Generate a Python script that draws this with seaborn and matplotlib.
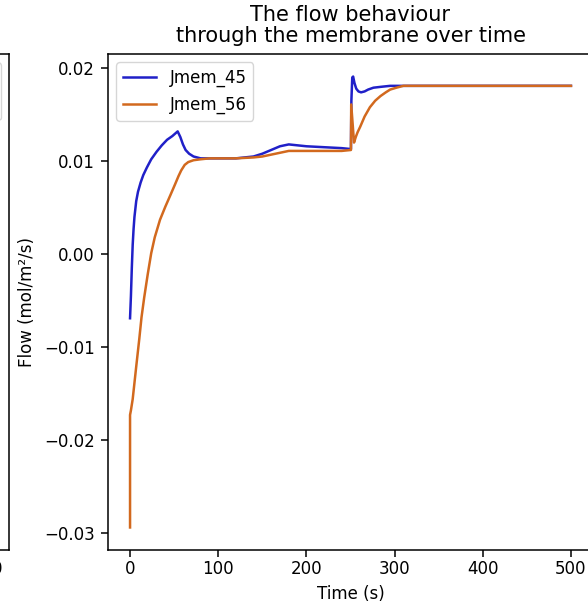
import numpy as np
import pandas as pd
import matplotlib
matplotlib.use("Agg")
import matplotlib.pyplot as plt
import seaborn as sns

# ---- data ----
t_45 = [0, 1, 2, 3, 4, 5, 7, 9, 12, 15, 19, 24, 30, 36, 42, 48, 54, 57, 60, 63, 67,
        72, 80, 90, 100, 110, 120, 130, 140, 150, 160, 170, 180, 190, 200, 220, 240,
        250.5, 251, 252, 253, 254.5, 256.5, 259, 262, 266, 270, 276, 285, 295, 310,
        350, 400, 450, 500]
jmem_45 = [-0.0069, -0.0045, -0.0015, 0.0010, 0.0027, 0.0040, 0.0057, 0.0067, 0.0077,
           0.0085, 0.0093, 0.0102, 0.0110, 0.0117, 0.0123, 0.0127, 0.0132, 0.0126,
           0.0118, 0.0112, 0.0108, 0.0105, 0.0103, 0.0103, 0.0103, 0.0103, 0.0103,
           0.0104, 0.0105, 0.0108, 0.0112, 0.0116, 0.0118, 0.0117, 0.0116, 0.0115,
           0.0114, 0.0113, 0.0165, 0.0190, 0.0191, 0.0184, 0.0178, 0.0175, 0.0174,
           0.0175, 0.0177, 0.0179, 0.0180, 0.0181, 0.0181, 0.0181, 0.0181, 0.0181,
           0.0181]

t_56 = [0, 0, 1, 3, 7, 10.5, 13, 16, 20, 24, 28, 34, 40, 46, 51, 55, 58, 62, 66, 72,
        80, 90, 100, 120, 140, 150, 160, 170, 180, 200, 220, 240, 250.5, 250.8, 254,
        256, 258, 261, 266, 272, 278, 284, 290, 295, 302, 310, 330, 400, 450, 500]
jmem_56 = [-0.0294, -0.0173, -0.0168, -0.0156, -0.0121, -0.0091, -0.0068, -0.0047,
           -0.0022, 0.0001, 0.0018, 0.0037, 0.0051, 0.0064, 0.0075, 0.0084, 0.0090,
           0.0096, 0.0099, 0.0101, 0.0102, 0.0103, 0.0103, 0.0103, 0.0104, 0.0105,
           0.0107, 0.0109, 0.0111, 0.0111, 0.0111, 0.0111, 0.0112, 0.0161, 0.0120,
           0.0126, 0.0131, 0.0137, 0.0148, 0.0158, 0.0165, 0.0170, 0.0174, 0.0177,
           0.0179, 0.0181, 0.0181, 0.0181, 0.0181, 0.0181]

series_names = ["Jmem_45", "Jmem_56"]
colors = {"Jmem_45": "#2020c8", "Jmem_56": "#d2691e"}

df = pd.concat([
    pd.DataFrame({"Time": t_45, "Flow": jmem_45, "series": series_names[0]}),
    pd.DataFrame({"Time": t_56, "Flow": jmem_56, "series": series_names[1]}),
], ignore_index=True)

W, H = 588, 603
fig = plt.figure(figsize=(W / 100, H / 100), dpi=100)

leg_kw = dict(fontsize=12)

# partially visible neighbour subplot on the left (cropped)
axl = fig.add_axes([-474 / W, 1 - 550 / H, 483 / W, 496 / H])
axl.set_xlim(-25, 525)
axl.set_xticks([0, 100, 200, 300, 400, 500])
axl.set_yticks([])
axl.tick_params(labelsize=12, length=5, width=1.1, pad=2)
for s in axl.spines.values():
    s.set_linewidth(1.1)
axl.plot([], [], label=" ")
axl.plot([], [], label=" ")
axl.legend(loc="upper right", **leg_kw)

# main axes
ax = fig.add_axes([108 / W, 1 - 550 / H, 485 / W, 496 / H])
sns.lineplot(data=df, x="Time", y="Flow", hue="series", palette=colors,
             estimator=None, sort=False, linewidth=1.8, ax=ax)
ax.set_title("The flow behaviour\nthrough the membrane over time", fontsize=15,
             linespacing=1.05, pad=9)
ax.set_xlabel("Time (s)", fontsize=12, labelpad=5)
ax.set_ylabel("Flow (mol/m²/s)", fontsize=12, labelpad=6)
ax.set_xticks([0, 100, 200, 300, 400, 500])
ax.set_yticks([-0.03, -0.02, -0.01, 0.00, 0.01, 0.02])
ax.set_yticklabels(["\u22120.03", "\u22120.02", "\u22120.01", "0.00", "0.01", "0.02"])
ax.tick_params(axis="x", labelsize=12, length=5, width=1.1, pad=2)
ax.tick_params(axis="y", labelsize=12, length=5, width=1.1, pad=4.5)
for s in ax.spines.values():
    s.set_linewidth(1.1)
ax.legend(loc="upper left", title=None, **leg_kw)

fig.savefig("out.png", dpi=100)
